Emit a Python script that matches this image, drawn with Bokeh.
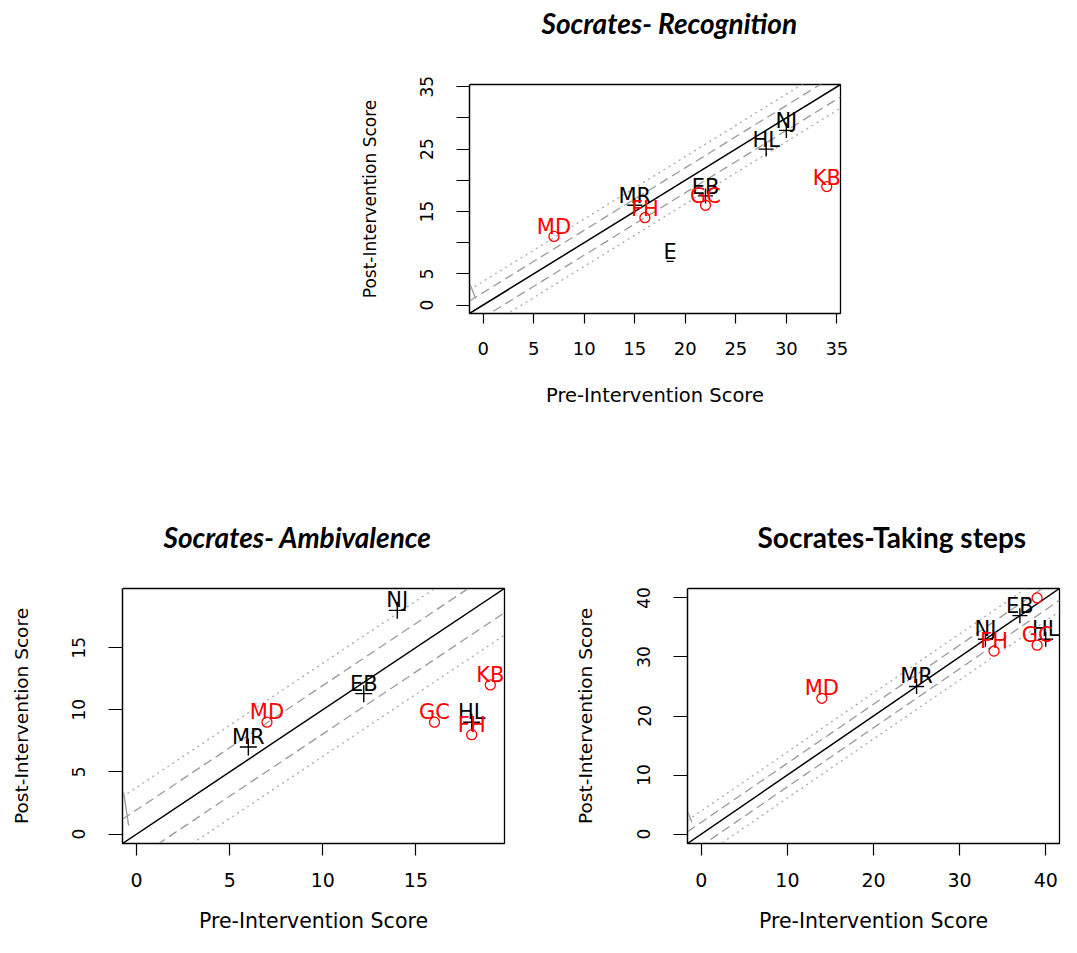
from bokeh.plotting import figure
from bokeh.models import FixedTicker, Spacer, Range1d, Title, LinearAxis
from bokeh.layouts import column, row
from bokeh.core.properties import value
from bokeh.embed import file_html
from bokeh.resources import INLINE

# ---------------- data ----------------
# Socrates- Recognition
REC_NAMES = ["NJ", "HL", "EB", "MR", "E", "KB", "GC", "FH", "MD"]
REC_PRE = [30, 28, 22, 15, 18.5, 34, 22, 16, 7]
REC_POST = [28, 25, 17.5, 16, 7, 19, 16, 14, 11]
REC_GROUP = ["B", "B", "B", "B", "E", "R", "R", "R", "R"]
REC_EXTENT = [0, 34]
REC_XTICKS = [0, 5, 10, 15, 20, 25, 30, 35]
REC_YTICKS = [0, 5, 10, 15, 20, 25, 30, 35]
REC_YLABELS = ["0", "5", "", "15", "", "25", "", "35"]
REC_DASH = 2.0
REC_DOT = 3.8
REC_ARTIFACT_X = [-1.33, -0.76]
REC_ARTIFACT_Y = [3.47, 1.06]

# Socrates- Ambivalence
AMB_NAMES = ["NJ", "EB", "MR", "HL", "MD", "GC", "FH", "KB"]
AMB_PRE = [14, 12.2, 6, 18, 7, 16, 18, 19]
AMB_POST = [18, 11.3, 7, 9, 9, 9, 8, 12]
AMB_GROUP = ["B", "B", "B", "B", "R", "R", "R", "R"]
AMB_EXTENT = [0, 19]
AMB_XTICKS = [0, 5, 10, 15]
AMB_YTICKS = [0, 5, 10, 15]
AMB_YLABELS = ["0", "5", "10", "15"]
AMB_DASH = 1.95
AMB_DOT = 3.75
AMB_ARTIFACT_X = [-0.70, -0.43]
AMB_ARTIFACT_Y = [3.35, 0.68]

# Socrates-Taking steps
STP_NAMES = ["EB", "NJ", "MR", "HL", "MD", "FH", "GC", "KB"]
STP_PRE = [37, 33, 25, 40, 14, 34, 39, 39]
STP_POST = [37, 33, 25, 33, 23, 31, 32, 40]
STP_GROUP = ["B", "B", "B", "B", "R", "R", "R", "R"]
STP_EXTENT = [0, 40]
STP_XTICKS = [0, 10, 20, 30, 40]
STP_YTICKS = [0, 10, 20, 30, 40]
STP_YLABELS = ["0", "10", "20", "30", "40"]
STP_DASH = 2.0
STP_DOT = 3.9
STP_ARTIFACT_X = [-1.63, -1.08]
STP_ARTIFACT_Y = [3.94, 1.97]

FONT = "DejaVu Sans"
TITLE_FONT = "Lato"


def padded(ext):
    d = ext[1] - ext[0]
    return ext[0] - 0.04 * d, ext[1] + 0.04 * d


def panel(names, pre, post, group, extent, xticks, yticks, ylabels, dash_off, dot_off,
          art_x, art_y, title, title_style, g):
    x0, x1 = padded(extent)
    p = figure(width=g["w"], height=g["h"], output_backend="svg", toolbar_location=None,
               x_range=Range1d(x0, x1), y_range=Range1d(x0, x1),
               min_border_left=g["bl"], min_border_right=g["br"],
               min_border_top=g["bt"], min_border_bottom=g["bb"])
    p.grid.visible = False
    p.outline_line_color = "black"
    p.outline_line_width = 1.3
    p.background_fill_color = "white"
    p.border_fill_color = "white"

    # axes
    p.xaxis.ticker = FixedTicker(ticks=xticks)
    p.yaxis.ticker = FixedTicker(ticks=yticks)
    p.yaxis.major_label_overrides = {t: lab for t, lab in zip(yticks, ylabels)}
    p.xaxis.axis_label = "Pre-Intervention Score"
    p.yaxis.axis_label = "Post-Intervention Score"
    for ax, key in ((p.xaxis, "x"), (p.yaxis, "y")):
        ax.axis_line_color = "black"
        ax.axis_line_width = 1.2
        ax.major_tick_line_color = "black"
        ax.major_tick_line_width = 1.2
        ax.major_tick_in = 0
        ax.major_tick_out = g[key + "tick"]
        ax.minor_tick_in = 0
        ax.minor_tick_out = 0
        ax.major_label_text_font = FONT
        ax.major_label_text_font_size = g[key + "tfs"]
        ax.major_label_text_color = "black"
        ax.major_label_standoff = g[key + "so"]
        ax.axis_label_text_font = FONT
        ax.axis_label_text_font_size = g[key + "lfs"]
        ax.axis_label_text_font_style = "normal"
        ax.axis_label_text_color = "black"
        ax.axis_label_standoff = g[key + "als"]
    p.yaxis.major_label_orientation = "vertical"

    # reference lines
    xs = [x0, x1]
    for off in (-dot_off, dot_off):
        p.line(xs, [v + off for v in xs], line_color="#a8a8a8", line_width=1.3, line_dash="2 4")
    for off in (-dash_off, dash_off):
        p.line(xs, [v + off for v in xs], line_color="#9a9a9a", line_width=1.3, line_dash="9 5")
    p.line(art_x, art_y, line_color="#9a9a9a", line_width=1.3)
    p.line(xs, xs, line_color="black", line_width=1.5)

    # points
    def pick(keys, seq):
        return [v for v, k in zip(seq, group) if k in keys]

    p.scatter(pick("B", pre), pick("B", post), marker="cross", size=g["plus"],
              line_color="black", line_width=1.4)
    p.scatter(pick("R", pre), pick("R", post), marker="circle", size=10, fill_color=None,
              line_color="red", line_width=1.3)
    if "E" in group:
        p.scatter(pick("E", pre), pick("E", post), marker="dash", size=7,
                  line_color="black", line_width=1.3)

    # labels (drawn only when their baseline lies inside the plotting region)
    fh = g["h"] - g["bt"] - g["bb"]
    lift = -g["loff"] * (x1 - x0) / fh
    for keys, col in (("BE", "black"), ("R", "red")):
        lx, ly, lt = [], [], []
        for n, a, b, k in zip(names, pre, post, group):
            if k in keys and b + lift < x1:
                lx.append(a)
                ly.append(b)
                lt.append(n)
        p.text(lx, ly, text=lt, text_align="center", text_baseline="alphabetic",
               y_offset=g["loff"], text_color=col, text_font=value(FONT),
               text_font_size=value("21px"))

    # blank spacer axis right above the frame, then the title above it
    spacer = LinearAxis(ticker=FixedTicker(ticks=[x0]), major_tick_out=g["tgap"], major_tick_in=0,
                        minor_tick_out=0, minor_tick_in=0, axis_line_color=None,
                        major_tick_line_color="white", major_tick_line_width=1,
                        minor_tick_line_color=None,
                        major_label_standoff=0, major_label_text_font_size="1px",
                        major_label_text_color="white", major_label_overrides={x0: ""})
    p.add_layout(spacer, "above")
    p.add_layout(Title(text=title, align="left", offset=g["toff"], standoff=0,
                       vertical_align="bottom", text_font=TITLE_FONT,
                       text_font_style=title_style, text_font_size="28px",
                       text_color="black"), "above")
    return p


g_top = dict(w=522, h=411, bl=131, br=20, bt=84, bb=98,
             xtick=10, ytick=13, xtfs="18px", ytfs="17px", xlfs="19.5px", ylfs="17px",
             xso=18, yso=23, xals=26, yals=38, plus=15, loff=-9, toff=72, tgap=45)
g_amb = dict(w=526, h=526, bl=122, br=22, bt=177, bb=94,
             xtick=12, ytick=14, xtfs="19px", ytfs="17px", xlfs="20.5px", ylfs="18.5px",
             xso=17, yso=23, xals=19, yals=38, plus=17, loff=-10, toff=41, tgap=35)
g_stp = dict(w=535, h=526, bl=161, br=2, bt=177, bb=94,
             xtick=12, ytick=14, xtfs="19px", ytfs="17px", xlfs="20.5px", ylfs="18.5px",
             xso=17, yso=23, xals=19, yals=39, plus=15, loff=-10, toff=70, tgap=35)

p1 = panel(REC_NAMES, REC_PRE, REC_POST, REC_GROUP, REC_EXTENT, REC_XTICKS, REC_YTICKS,
           REC_YLABELS, REC_DASH, REC_DOT, REC_ARTIFACT_X, REC_ARTIFACT_Y,
           "Socrates- Recognition", "bold italic", g_top)
p2 = panel(AMB_NAMES, AMB_PRE, AMB_POST, AMB_GROUP, AMB_EXTENT, AMB_XTICKS, AMB_YTICKS,
           AMB_YLABELS, AMB_DASH, AMB_DOT, AMB_ARTIFACT_X, AMB_ARTIFACT_Y,
           "Socrates- Ambivalence", "bold italic", g_amb)
p3 = panel(STP_NAMES, STP_PRE, STP_POST, STP_GROUP, STP_EXTENT, STP_XTICKS, STP_YTICKS,
           STP_YLABELS, STP_DASH, STP_DOT, STP_ARTIFACT_X, STP_ARTIFACT_Y,
           "Socrates-Taking steps", "bold", g_stp)

layout = column(row(Spacer(width=338, height=411), p1), row(p2, p3))
open("out.html", "w").write(file_html(layout, INLINE))
